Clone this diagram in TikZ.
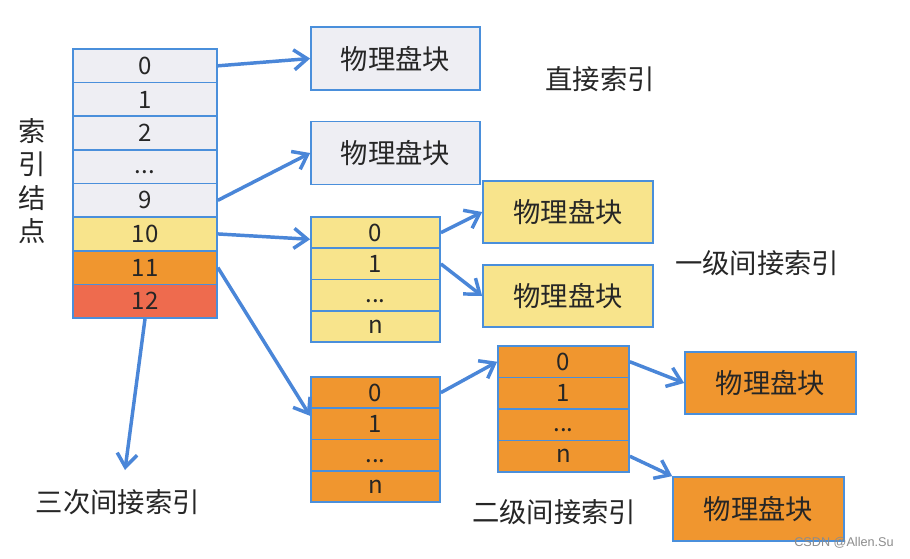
\documentclass[tikz,border=0pt]{standalone}
\usepackage{fontspec}
\setmainfont{Noto Sans CJK SC}
\newfontfamily\wmfont{Liberation Sans}
\usetikzlibrary{arrows.meta,calc}
\definecolor{bordc}{HTML}{4A8FDB}
\definecolor{arrc}{HTML}{4A86D8}
\definecolor{grayf}{HTML}{EEEEF3}
\definecolor{yelf}{HTML}{F8E48C}
\definecolor{oraf}{HTML}{F0962F}
\definecolor{redf}{HTML}{EE6B4E}
\newcommand\mydots{\vphantom{0}\smash{\raisebox{1pt}{...}}}
\tikzset{
  cell/.style={draw=bordc, line width=1.3pt, rectangle, inner sep=0pt,
    font=\fontsize{18}{20}\selectfont, text=black!85},
  maincell/.style={cell, minimum width={144*0.75pt}, minimum height={33.625*0.75pt}},
  subcell/.style={cell, minimum width={129*0.75pt}, minimum height={31.25*0.75pt}},
  subcellb/.style={cell, minimum width={131*0.75pt}, minimum height={31.5*0.75pt}},
  block/.style={cell, font=\fontsize{20.5}{22}\selectfont, minimum width={169*0.75pt}, minimum height={63*0.75pt}},
  lbl/.style={font=\fontsize{20.5}{22}\selectfont, text=black!85, inner sep=0pt},
  arr/.style={draw=arrc, line width=2.6pt, -{Straight Barb[length=10pt,width=15pt,line width=2.6pt]}},
}
\begin{document}
\begin{tikzpicture}[x=0.75pt,y=-0.75pt]
\useasboundingbox[fill=white] (0,0) rectangle (910,558);
% main index table
\foreach \i/\t/\c in {0/0/grayf,1/1/grayf,2/2/grayf,3/\mydots/grayf,4/9/grayf,5/10/yelf,6/11/oraf,7/12/redf}{
  \node[maincell, fill=\c] (m\i) at (145,{49+33.625*(\i+0.5)}) {\t};
}
\node[lbl, align=center, font=\fontsize{20.5}{25}\selectfont] (lab) at (32,181) {索\\引\\结\\点};
% direct blocks
\node[block, fill=grayf] (pb1) at (395.5,58.5) {物理盘块};
\node[block, fill=grayf] (pb2) at (395.5,153) {物理盘块};
\node[lbl] (tdir) at (600,79) {直接索引};
% single indirect
\foreach \i/\t in {0/0,1/1,2/\mydots,3/n}{
  \node[subcell, fill=yelf] (y\i) at (375.5,{217+31.25*(\i+0.5)}) {\t};
}
\node[block, fill=yelf, minimum width={170*0.75pt}, minimum height={62*0.75pt}] (pb3) at (568,212) {物理盘块};
\node[block, fill=yelf, minimum width={170*0.75pt}, minimum height={62*0.75pt}] (pb4) at (568,296) {物理盘块};
\node[lbl] (tone) at (757,263) {一级间接索引};
% double indirect
\foreach \i/\t in {0/0,1/1,2/\mydots,3/n}{
  \node[subcell, fill=oraf] (a\i) at (375.5,{377+31.25*(\i+0.5)}) {\t};
  \node[subcellb, fill=oraf] (b\i) at (563.5,{346+31.5*(\i+0.5)}) {\t};
}
\node[block, fill=oraf, minimum width={171*0.75pt}, minimum height={62*0.75pt}] (pb5) at (770.5,383) {物理盘块};
\node[block, fill=oraf, minimum width={171*0.75pt}, minimum height={64*0.75pt}] (pb6) at (758.5,509) {物理盘块};
\node[lbl] (ttwo) at (554,512) {二级间接索引};
% triple indirect
\coordinate (tend) at (125,470);
\node[lbl] (tthree) at (118,502) {三次间接索引};
% watermark
\node[inner sep=0pt, font=\wmfont\fontsize{9.5}{11}\selectfont, text=black!45] (wm) at (844,543) {CSDN @Allen.Su};
% arrows
\draw[arr] (m0.east) -- (pb1.west);
\draw[arr] (m4.east) -- (pb2.west);
\draw[arr] (m5.east) -- ([yshift=-5pt]y0.west);
\draw[arr] (m6.east) -- ([yshift=6pt]a1.west);
\draw[arr] (m7.south) -- (tend);
\draw[arr] (y0.east) -- (pb3.west);
\draw[arr] (y1.east) -- (pb4.west);
\draw[arr] (a0.east) -- (b0.west);
\draw[arr] (b0.east) -- (pb5.west);
\draw[arr] (b3.east) -- (pb6.north west);
\end{tikzpicture}
\end{document}
